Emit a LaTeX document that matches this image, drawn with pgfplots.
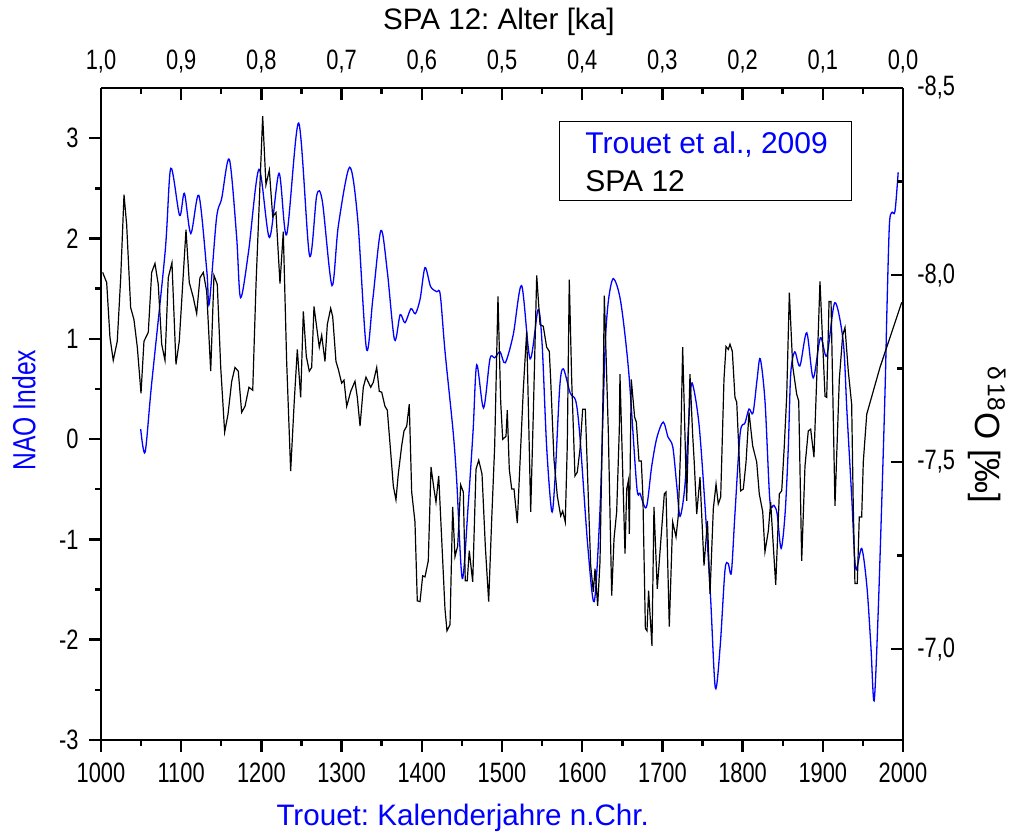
\documentclass[border=0pt]{standalone}
\usepackage{fontspec}
\setmainfont{Liberation Sans}
\usepackage{graphicx}
\usepackage{pgfplots}
\pgfplotsset{compat=1.18}
\usepackage{pgfplotstable}
\definecolor{nblue}{RGB}{0,0,255}
\frenchspacing

\pgfplotstableread{
year nao
1049.5 0.10
1055 -0.13
1063 0.54
1080 1.87
1087 2.70
1098 2.23
1104 2.45
1112 2.05
1122 2.43
1132 1.67
1135 1.35
1144 2.20
1150.5 2.40
1160 2.79
1169 2.03
1174 1.41
1184 1.87
1197 2.69
1210 2.01
1222 2.65
1231.5 2.04
1246.5 3.15
1260 1.83
1269 2.43
1276 2.37
1288 1.53
1296 2.13
1310 2.71
1320 2.20
1331 0.90
1339 1.40
1349 2.08
1357 1.67
1366 0.99
1373 1.24
1379 1.16
1386.5 1.30
1392 1.25
1398 1.40
1404 1.71
1411 1.52
1418.5 1.47
1423 1.44
1429 0.87
1439 0.08
1443.5 -0.41
1450.5 -1.39
1458 -0.64
1464 0.09
1468.5 0.74
1477 0.31
1485 0.80
1491 0.81
1497.5 0.87
1504 0.76
1514 1.04
1524.5 1.53
1535 0.80
1545 1.29
1550 0.95
1555.7 -0.08
1562 -0.72
1566 -0.41
1572 0.52
1576.5 0.70
1585 0.46
1592 0.38
1597 0.04
1607 -1.07
1615 -1.62
1622 -0.74
1626 0.26
1629 1.00
1633 1.40
1639 1.60
1648 1.37
1658 0.67
1668 -0.47
1672 -0.54
1680 -0.68
1686.5 -0.28
1693 0.01
1701 0.17
1707 0.02
1713 -0.08
1718 -0.47
1722 -0.77
1728 -0.47
1733.5 0.26
1737 0.56
1745.5 0.16
1753 -0.65
1760 -1.57
1766 -2.48
1772 -2.07
1778 -1.31
1782 -1.24
1786 -1.33
1790.5 -0.74
1797 0.06
1803 0.16
1808 0.30
1813 0.26
1818 0.59
1822 0.80
1828 0.37
1834 -0.61
1839 -0.66
1843 -0.74
1848 -1.09
1853 -0.74
1857 -0.08
1860 0.65
1865 0.87
1871.5 0.73
1880 1.06
1888 0.61
1897 1.01
1905 0.83
1915 1.36
1925.5 0.97
1930 0.29
1936 -0.57
1941 -1.29
1948.5 -1.09
1955 -1.47
1960 -2.07
1964 -2.61
1969 -1.74
1975 -0.24
1978 0.60
1980 1.30
1983 2.13
1986 2.26
1990 2.27
1994 2.66
}\trouet

\pgfplotstableread{
ka d18O
0.9979 -8.007
0.9929 -7.980
0.9888 -7.833
0.9847 -7.772
0.9797 -7.823
0.9754 -7.993
0.9713 -8.215
0.9680 -8.135
0.9630 -7.913
0.9589 -7.881
0.9547 -7.807
0.9501 -7.684
0.9464 -7.823
0.9410 -7.847
0.9368 -8.007
0.9327 -8.031
0.9286 -7.975
0.9243 -7.815
0.9202 -7.772
0.9161 -7.993
0.9115 -8.033
0.9065 -7.761
0.9024 -7.823
0.8940 -8.121
0.8899 -7.980
0.8849 -7.940
0.8807 -7.897
0.8766 -7.993
0.8724 -8.007
0.8682 -7.956
0.8632 -7.743
0.8591 -7.999
0.8550 -7.975
0.8507 -7.753
0.8458 -7.580
0.8416 -7.628
0.8370 -7.716
0.8329 -7.753
0.8288 -7.743
0.8246 -7.633
0.8204 -7.649
0.8155 -7.700
0.8108 -7.692
0.8067 -7.975
0.8026 -8.196
0.7984 -8.425
0.7943 -8.241
0.7901 -8.281
0.7859 -8.156
0.7818 -8.167
0.7768 -7.977
0.7727 -8.116
0.7685 -7.769
0.7635 -7.476
0.7590 -7.663
0.7552 -7.801
0.7510 -7.673
0.7477 -7.903
0.7440 -7.783
0.7403 -7.743
0.7373 -7.753
0.7344 -7.916
0.7278 -7.807
0.7248 -7.839
0.7207 -7.769
0.7178 -7.868
0.7136 -7.911
0.7111 -7.889
0.7070 -7.769
0.7041 -7.748
0.6999 -7.711
0.6970 -7.719
0.6936 -7.649
0.6886 -7.689
0.6833 -7.716
0.6804 -7.673
0.6770 -7.596
0.6729 -7.700
0.6696 -7.727
0.6637 -7.700
0.6605 -7.713
0.6562 -7.753
0.6530 -7.689
0.6500 -7.687
0.6459 -7.649
0.6430 -7.639
0.6388 -7.527
0.6355 -7.436
0.6322 -7.399
0.6293 -7.468
0.6251 -7.543
0.6222 -7.583
0.6188 -7.596
0.6156 -7.655
0.6126 -7.420
0.6085 -7.340
0.6056 -7.129
0.6022 -7.127
0.5989 -7.196
0.5960 -7.193
0.5919 -7.236
0.5885 -7.487
0.5848 -7.428
0.5823 -7.393
0.5789 -7.463
0.5752 -7.295
0.5711 -7.108
0.5686 -7.049
0.5648 -7.065
0.5615 -7.380
0.5586 -7.247
0.5552 -7.276
0.5515 -7.439
0.5482 -7.420
0.5458 -7.183
0.5433 -7.183
0.5408 -7.263
0.5365 -7.180
0.5324 -7.481
0.5290 -7.505
0.5249 -7.468
0.5208 -7.276
0.5166 -7.127
0.5128 -7.348
0.5091 -7.543
0.5050 -7.943
0.5016 -7.660
0.4991 -7.561
0.4950 -7.569
0.4934 -7.639
0.4909 -7.481
0.4879 -7.428
0.4850 -7.428
0.4809 -7.337
0.4775 -7.500
0.4734 -7.695
0.4692 -7.849
0.4642 -7.367
0.4609 -7.633
0.4567 -7.999
0.4526 -7.868
0.4485 -7.863
0.4443 -7.807
0.4410 -7.796
0.4393 -7.721
0.4352 -7.508
0.4310 -7.409
0.4268 -7.356
0.4243 -7.369
0.4211 -7.340
0.4186 -7.543
0.4161 -7.988
0.4131 -7.721
0.4090 -7.463
0.4061 -7.473
0.4027 -7.535
0.3994 -7.641
0.3961 -7.641
0.3924 -7.409
0.3894 -7.223
0.3861 -7.153
0.3840 -7.215
0.3807 -7.116
0.3778 -7.233
0.3737 -7.721
0.3724 -7.945
0.3674 -7.580
0.3632 -7.143
0.3603 -7.295
0.3570 -7.367
0.3537 -7.588
0.3529 -7.735
0.3466 -7.255
0.3445 -7.428
0.3425 -7.449
0.3412 -7.308
0.3388 -7.721
0.3346 -7.620
0.3325 -7.607
0.3292 -7.503
0.3263 -7.503
0.3243 -7.409
0.3212 -7.055
0.3192 -7.049
0.3172 -7.156
0.3130 -7.009
0.3105 -7.380
0.3064 -7.161
0.3006 -7.329
0.2976 -7.415
0.2955 -7.420
0.2914 -7.060
0.2872 -7.340
0.2830 -7.300
0.2802 -7.356
0.2772 -7.543
0.2747 -7.807
0.2697 -7.396
0.2656 -7.735
0.2623 -7.575
0.2603 -7.500
0.2572 -7.361
0.2531 -7.460
0.2481 -7.223
0.2438 -7.343
0.2406 -7.148
0.2365 -7.375
0.2331 -7.441
0.2303 -7.388
0.2273 -7.407
0.2232 -7.721
0.2207 -7.809
0.2178 -7.801
0.2157 -7.815
0.2128 -7.796
0.2095 -7.673
0.2073 -7.660
0.2024 -7.423
0.1991 -7.428
0.1957 -7.500
0.1920 -7.633
0.1874 -7.543
0.1824 -7.500
0.1792 -7.415
0.1749 -7.367
0.1721 -7.260
0.1679 -7.316
0.1650 -7.393
0.1617 -7.276
0.1587 -7.172
0.1542 -7.415
0.1512 -7.423
0.1480 -7.543
0.1450 -7.676
0.1417 -7.953
0.1375 -7.756
0.1325 -7.681
0.1300 -7.663
0.1263 -7.236
0.1222 -7.489
0.1181 -7.583
0.1151 -7.588
0.1110 -7.513
0.1076 -7.721
0.1035 -7.983
0.0972 -7.676
0.0951 -7.673
0.0922 -7.929
0.0897 -7.929
0.0848 -7.383
0.0794 -7.721
0.0752 -7.839
0.0723 -7.860
0.0682 -7.743
0.0640 -7.655
0.0620 -7.383
0.0599 -7.175
0.0570 -7.175
0.0545 -7.353
0.0515 -7.353
0.0495 -7.500
0.0452 -7.628
0.0287 -7.753
0.0016 -7.927
}\spa

\newcommand{\narrow}[1]{\scalebox{0.78}[1]{#1}}

\pgfplotsset{
  common/.style={
    width=401pt, height=326pt, scale only axis,
    at={(0,0)}, anchor=south west,
    enlargelimits=false,
    axis line style={line width=1.3pt},
    tick style={black, line width=1.2pt},
    major tick length=6pt, minor tick length=3pt,
    tick label style={font=\fontsize{14}{16}\selectfont},
    label style={font=\fontsize{14.8}{17}\selectfont},
    /pgf/number format/assume math mode=true,
    xticklabel={\narrow{\pgfmathprintnumber{\tick}}},
    yticklabel={\narrow{\pgfmathprintnumber{\tick}}},
  }
}

\begin{document}
\begin{tikzpicture}
\begin{axis}[common,
  xmin=1000, xmax=2000, ymin=-3, ymax=3.5,
  axis x line*=bottom, axis y line*=left,
  tick align=outside,
  xtick={1000,1100,1200,1300,1400,1500,1600,1700,1800,1900,2000},
  minor x tick num=1,
  ytick={-3,-2,-1,0,1,2,3},
  minor y tick num=1,
  /pgf/number format/1000 sep={},
  xticklabel style={anchor=center, yshift=-10.5pt, inner sep=0pt},
  yticklabel style={anchor=east, xshift=-5pt, inner sep=0pt},
  xlabel={Trouet: Kalenderjahre n.Chr.},
  ylabel={\scalebox{0.77}[1]{NAO Index}},
  xlabel style={at={(axis description cs:0.451,-0.1196)}, anchor=center, text=nblue},
  ylabel style={at={(axis description cs:-0.096,0.506)}, anchor=center, text=nblue, font=\fontsize{16}{19}\selectfont},
]
\addplot[nblue, line width=0.65pt, smooth] table[x=year, y=nao] {\trouet};
\draw[line width=0.5pt] (axis description cs:0.5723,0.9479) rectangle (axis description cs:0.9364,0.8282);
\node[anchor=base west, inner sep=0pt, text=nblue, font=\fontsize{15}{18}\selectfont] at (axis description cs:0.6035,0.8998) {Trouet et al., 2009};
\node[anchor=base west, inner sep=0pt, font=\fontsize{15}{18}\selectfont] at (axis description cs:0.6035,0.8420) {SPA 12};
\end{axis}

\begin{axis}[common,
  xmin=0, xmax=1, x dir=reverse,
  ymin=-8.5, ymax=-6.757, y dir=reverse,
  axis x line*=top, axis y line*=right,
  tick align=inside,
  xtick={0,0.1,0.2,0.3,0.4,0.5,0.6,0.7,0.8,0.9,1.0},
  minor x tick num=1,
  ytick={-8.5,-8,-7.5,-7},
  minor y tick num=1,
  /pgf/number format/fixed,
  /pgf/number format/fixed zerofill,
  /pgf/number format/precision=1,
  /pgf/number format/use comma,
  xticklabel style={anchor=center, yshift=13pt, inner sep=0pt},
  yticklabel style={anchor=west, xshift=7pt, inner sep=0pt},
  xlabel={SPA 12: Alter [ka]},
  ylabel={\textsuperscript{δ\,18}O [‰]},
  xlabel style={at={(axis description cs:0.496,1.1012)}, anchor=center},
  ylabel style={at={(axis description cs:1.1047,0.468)}, anchor=center, rotate=180, font=\fontsize{17.5}{20}\selectfont},
]
\addplot[black, line width=0.6pt] table[x=ka, y=d18O] {\spa};
\end{axis}
\pgfresetboundingbox
\path[use as bounding box] (-50.5pt,-48pt) rectangle (456.5pt,370pt);
\end{tikzpicture}
\end{document}
